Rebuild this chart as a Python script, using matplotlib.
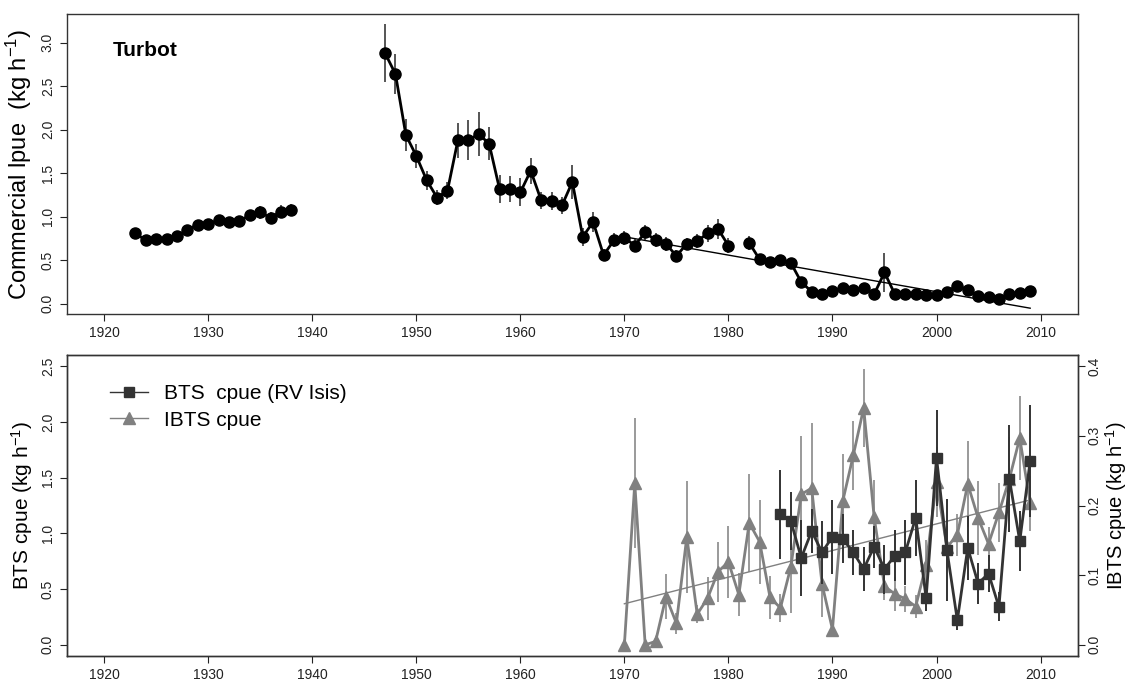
import numpy as np
import matplotlib
matplotlib.use("Agg")
import matplotlib.pyplot as plt
from matplotlib.lines import Line2D

plt.rcParams['font.family'] = ['Liberation Sans', 'DejaVu Sans']
plt.rcParams['mathtext.default'] = 'regular'

# Commercial lpue (top panel) ---------------------------------------------
lpue_years = list(range(1923, 1939)) + list(range(1947, 1981)) + list(range(1982, 2010))
lpue = [0.81, 0.73, 0.75, 0.74, 0.78, 0.85, 0.91, 0.92, 0.96, 0.94, 0.95, 1.02, 1.05, 0.99, 1.06, 1.08,
        2.88, 2.64, 1.94, 1.70, 1.42, 1.22, 1.30, 1.88, 1.88, 1.95, 1.84, 1.32, 1.32, 1.28, 1.53,
        1.19, 1.18, 1.13, 1.40, 0.77, 0.94, 0.56, 0.73, 0.76, 0.67, 0.82, 0.73, 0.69, 0.55, 0.69,
        0.72, 0.81, 0.86, 0.67,
        0.70, 0.51, 0.48, 0.50, 0.47, 0.25, 0.14, 0.11, 0.15, 0.18, 0.16, 0.18, 0.11, 0.36, 0.11,
        0.11, 0.11, 0.10, 0.10, 0.14, 0.21, 0.16, 0.09, 0.08, 0.05, 0.11, 0.13, 0.15]
lpue_err = [0.03, 0.04, 0.04, 0.04, 0.04, 0.05, 0.05, 0.05, 0.06, 0.05, 0.06, 0.06, 0.07, 0.06, 0.07, 0.07,
            0.33, 0.23, 0.18, 0.14, 0.11, 0.09, 0.10, 0.20, 0.23, 0.25, 0.19, 0.16, 0.15, 0.16, 0.15,
            0.10, 0.10, 0.10, 0.20, 0.10, 0.11, 0.07, 0.08, 0.08, 0.07, 0.09, 0.08, 0.08, 0.07, 0.07,
            0.08, 0.10, 0.11, 0.09,
            0.08, 0.06, 0.05, 0.06, 0.06, 0.04, 0.03, 0.03, 0.03, 0.03, 0.03, 0.03, 0.03, 0.22, 0.03,
            0.03, 0.03, 0.03, 0.03, 0.03, 0.04, 0.03, 0.03, 0.03, 0.03, 0.03, 0.03, 0.03]
lpue_trend_years = [1970, 2009]
lpue_trend = [0.77, -0.05]

# Survey cpue (bottom panel) ----------------------------------------------
bts_years = list(range(1985, 2010))
bts = [1.17, 1.11, 0.78, 1.02, 0.83, 0.97, 0.95, 0.83, 0.68, 0.88, 0.68, 0.80, 0.83, 1.14, 0.42,
       1.68, 0.85, 0.22, 0.87, 0.55, 0.64, 0.34, 1.49, 0.93, 1.65]
bts_err = [0.40, 0.26, 0.34, 0.20, 0.28, 0.33, 0.22, 0.20, 0.20, 0.19, 0.22, 0.23, 0.29, 0.34, 0.12,
           0.43, 0.46, 0.09, 0.29, 0.18, 0.17, 0.13, 0.48, 0.27, 0.50]

ibts_years = list(range(1970, 2010))
ibts = [0.000, 0.232, 0.000, 0.005, 0.069, 0.031, 0.155, 0.044, 0.067, 0.105, 0.119, 0.072, 0.175,
        0.148, 0.068, 0.053, 0.112, 0.216, 0.225, 0.087, 0.022, 0.207, 0.272, 0.340, 0.184, 0.084,
        0.073, 0.066, 0.055, 0.115, 0.234, 0.140, 0.158, 0.231, 0.182, 0.145, 0.190, 0.238, 0.297,
        0.203]
ibts_err = [0.000, 0.093, 0.000, 0.004, 0.032, 0.015, 0.080, 0.013, 0.031, 0.043, 0.052, 0.031, 0.070,
            0.060, 0.031, 0.020, 0.066, 0.084, 0.093, 0.047, 0.011, 0.067, 0.050, 0.056, 0.053, 0.020,
            0.025, 0.019, 0.017, 0.035, 0.050, 0.030, 0.030, 0.062, 0.053, 0.024, 0.043, 0.060, 0.060,
            0.040]
ibts_trend_years = [1970, 2009]
ibts_trend = [0.059, 0.208]

year_ticks = list(range(1920, 2011, 10))


def runs(years):
    # split into consecutive-year blocks so gaps are not joined
    idx = np.where(np.diff(years) > 1)[0] + 1
    return np.split(np.arange(len(years)), idx)


def style_axis(ax):
    ax.set_xlim(1916.4, 2013.6)
    ax.set_xticks(year_ticks)
    ax.tick_params(axis='both', direction='out', length=5, width=0.8, labelsize=10, colors='#222222')
    ax.tick_params(axis='y', labelrotation=90)
    for lab in ax.get_yticklabels():
        lab.set_va('center')
    for s in ax.spines.values():
        s.set_linewidth(1.0)
        s.set_color('#333333')


def draw_top(ax):
    yrs = np.array(lpue_years)
    vals = np.array(lpue)
    errs = np.array(lpue_err)
    ax.errorbar(yrs, vals, yerr=errs, fmt='none', ecolor='#555555', elinewidth=1.4, capsize=0, zorder=2)
    for r in runs(yrs):
        ax.plot(yrs[r], vals[r], '-o', color='black', lw=2, markersize=8, zorder=3)
    ax.plot(lpue_trend_years, lpue_trend, color='black', lw=1, zorder=2)
    ax.set_ylim(-0.12, 3.33)
    ax.set_yticks(np.arange(0, 3.01, 0.5))
    ax.set_yticklabels(['%.1f' % v for v in np.arange(0, 3.01, 0.5)])
    ax.set_ylabel('Commercial lpue  (kg h$^{-1}$)', fontsize=17, labelpad=5)
    ax.text(0.046, 0.877, 'Turbot', transform=ax.transAxes, fontsize=15, fontweight='bold',
            va='center', ha='left')
    style_axis(ax)


def draw_bottom(ax):
    ax2 = ax.twinx()
    ax2.errorbar(ibts_years, ibts, yerr=ibts_err, fmt='none', ecolor='#9a9a9a', elinewidth=1.4,
                 capsize=0, zorder=2)
    ax2.plot(ibts_years, ibts, '-^', color='#808080', lw=2, markersize=8, zorder=3)
    ax2.plot(ibts_trend_years, ibts_trend, color='#808080', lw=1, zorder=2)
    ax2.set_ylim(-0.016, 0.416)
    ax2.set_yticks([0.0, 0.1, 0.2, 0.3, 0.4])
    ax2.set_yticklabels(['0.0', '0.1', '0.2', '0.3', '0.4'])
    ax2.set_ylabel('IBTS cpue (kg h$^{-1}$)', fontsize=14.5, rotation=90, labelpad=1)

    ax.set_zorder(ax2.get_zorder() + 1)
    ax.patch.set_visible(False)
    ax.errorbar(bts_years, bts, yerr=bts_err, fmt='none', ecolor='#333333', elinewidth=1.4,
                capsize=0, zorder=2)
    ax.plot(bts_years, bts, '-s', color='#333333', lw=2, markersize=7, zorder=3)
    ax.set_ylim(-0.1, 2.6)
    ax.set_yticks(np.arange(0, 2.51, 0.5))
    ax.set_yticklabels(['%.1f' % v for v in np.arange(0, 2.51, 0.5)])
    ax.set_ylabel('BTS cpue (kg h$^{-1}$)', fontsize=15, labelpad=4)

    handles = [Line2D([], [], color='#333333', marker='s', lw=1.0, markersize=7),
               Line2D([], [], color='#808080', marker='^', lw=1.0, markersize=8)]
    ax.legend(handles, ['BTS  cpue (RV Isis)', 'IBTS cpue'], loc='upper left',
              bbox_to_anchor=(0.035, 0.93), frameon=False, fontsize=15, handlelength=1.8,
              handletextpad=0.75, labelspacing=0.35, borderaxespad=0)

    style_axis(ax)
    style_axis(ax2)
    ax2.tick_params(axis='y', labelrotation=90, pad=2)
    for lab in ax2.get_yticklabels():
        lab.set_va('center')


def main():
    fig = plt.figure(figsize=(11.28, 6.81), dpi=100)
    ax_top = fig.add_axes([0.0591, 0.5385, 0.8966, 0.441])
    ax_bot = fig.add_axes([0.0591, 0.0367, 0.8966, 0.442])
    draw_top(ax_top)
    draw_bottom(ax_bot)
    fig.savefig('out.png', dpi=100)


if __name__ == "__main__":
    main()
